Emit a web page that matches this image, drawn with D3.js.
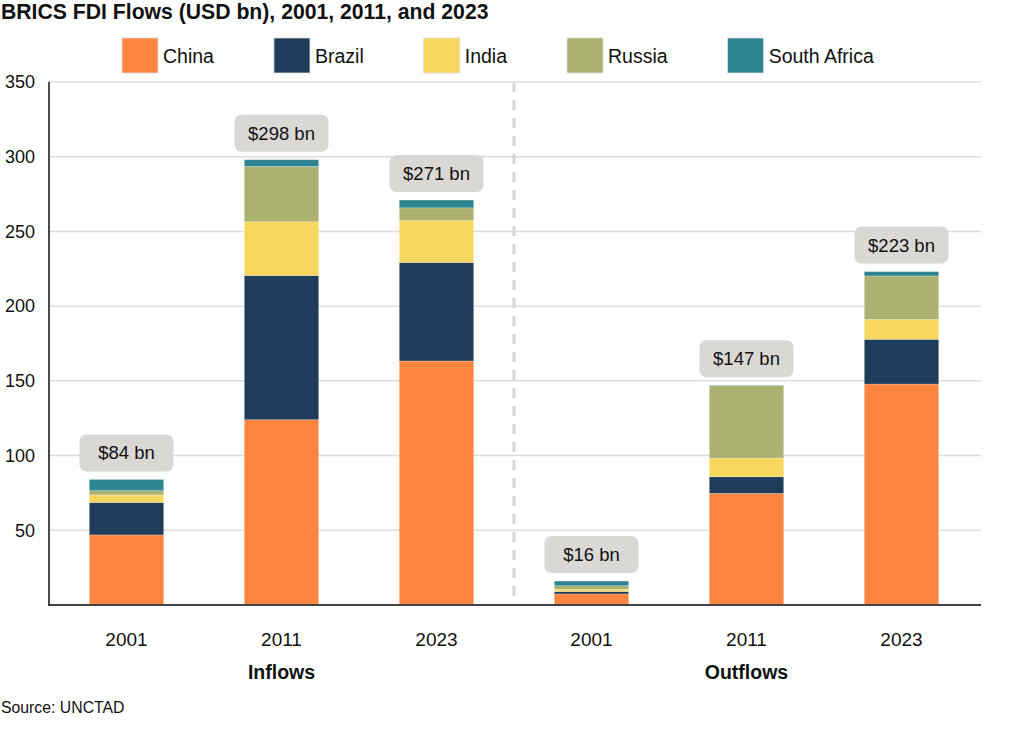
<!DOCTYPE html>
<html>
<head>
<meta charset="utf-8">
<script src="https://cdn.jsdelivr.net/npm/d3@7"></script>
<style>
  body { margin: 0; background: #fff; }
  text { font-family: "Liberation Sans", Arial, sans-serif; fill: #111; }
</style>
</head>
<body>
<div id="chart"></div>
<script>
// Data (USD bn)
var groups = ["Inflows", "Outflows"];
var years = ["2001", "2011", "2023"];
var countries = ["China", "Brazil", "India", "Russia", "South Africa"];
var colors = ["#fb843e", "#1f3c5a", "#f7d65d", "#abb26f", "#2f8491"];

var china       = [46.9, 124.0, 163.3, 7.4, 74.7, 147.9];
var brazil      = [21.7,  96.5,  65.9, 1.6, 11.1,  29.9];
var india       = [ 5.1,  36.0,  28.2, 1.5, 12.5,  13.3];
var russia      = [ 2.8,  37.0,   8.4, 2.4, 48.6,  29.1];
var southAfrica = [ 7.5,   4.5,   5.2, 3.1,  0.2,   2.9];
var totalLabels = ["$84 bn", "$298 bn", "$271 bn", "$16 bn", "$147 bn", "$223 bn"];
var yTicks = [50, 100, 150, 200, 250, 300, 350];

var width = 1024, height = 731;
var margin = { left: 49, right: 45, top: 82, bottom: 126 };

var rows = [];
groups.forEach(function(g, gi) {
    years.forEach(function(y, yi) {
        var i = gi * years.length + yi;
        rows.push({
            key: g + "|" + y, group: g, year: y, label: totalLabels[i],
            "China": china[i], "Brazil": brazil[i], "India": india[i],
            "Russia": russia[i], "South Africa": southAfrica[i]
        });
    });
});

var svg = d3.select("#chart").append("svg")
    .attr("width", width)
    .attr("height", height);

var x = d3.scaleBand()
    .domain(rows.map(function(d) { return d.key; }))
    .range([margin.left, width - margin.right])
    .paddingInner(0.52)
    .paddingOuter(0.26);

var y = d3.scaleLinear()
    .domain([0, 350])
    .range([height - margin.bottom, margin.top]);

var color = d3.scaleOrdinal().domain(countries).range(colors);

// title
svg.append("text")
    .attr("x", 1).attr("y", 19)
    .style("font-size", "21.2px").style("font-weight", "bold")
    .text("BRICS FDI Flows (USD bn), 2001, 2011, and 2023");

// legend
var lx = 122;
countries.forEach(function(c) {
    var g = svg.append("g").attr("transform", "translate(" + lx + ",38)");
    g.append("rect")
        .attr("width", 36).attr("height", 35)
        .attr("fill", color(c))
        .attr("stroke", "#ddd").attr("stroke-width", 0.8);
    var t = g.append("text")
        .attr("x", 41).attr("y", 24.5)
        .style("font-size", "19.5px")
        .text(c);
    lx += 41 + t.node().getComputedTextLength() + 60;
});

// gridlines
svg.append("g")
    .selectAll("line")
    .data(yTicks)
  .enter().append("line")
    .attr("x1", margin.left).attr("x2", width - margin.right + 2)
    .attr("y1", function(d) { return y(d); })
    .attr("y2", function(d) { return y(d); })
    .attr("stroke", "#dcdcdc").attr("stroke-width", 1.5);

// y axis labels
var yAxis = svg.append("g")
    .attr("transform", "translate(" + margin.left + ",0)")
    .call(d3.axisLeft(y).tickValues(yTicks).tickSize(0).tickPadding(14));
yAxis.select(".domain").remove();
yAxis.selectAll("text")
    .style("font-size", "18px")
    .style("font-family", "Liberation Sans, Arial, sans-serif")
    .attr("fill", "#111");

// dashed divider between inflows and outflows
var divX = (x(rows[2].key) + x.bandwidth() + x(rows[3].key)) / 2;
svg.append("line")
    .attr("x1", divX).attr("x2", divX)
    .attr("y1", y(350)).attr("y2", y(0))
    .attr("stroke", "#d6d6d6").attr("stroke-width", 3)
    .attr("stroke-dasharray", "10,8");

// stacked bars
var stack = d3.stack().keys(countries);
var series = stack(rows);

svg.append("g")
    .selectAll("g")
    .data(series)
  .enter().append("g")
    .attr("fill", function(d) { return color(d.key); })
    .selectAll("rect")
    .data(function(d) { return d; })
  .enter().append("rect")
    .attr("x", function(d) { return x(d.data.key); })
    .attr("y", function(d) { return y(d[1]); })
    .attr("width", x.bandwidth())
    .attr("height", function(d) { return y(d[0]) - y(d[1]); })
    .attr("stroke", "#ffffff").attr("stroke-opacity", 0.35).attr("stroke-width", 0.6);

// total labels
var tops = series[series.length - 1];
var lab = svg.append("g")
    .selectAll("g")
    .data(tops)
  .enter().append("g")
    .attr("transform", function(d) {
        return "translate(" + (x(d.data.key) + x.bandwidth() / 2) + "," + (y(d[1]) - 8) + ")";
    });
lab.append("rect")
    .attr("x", -47).attr("y", -37)
    .attr("width", 94).attr("height", 37)
    .attr("rx", 7)
    .attr("fill", "#d9d8d5");
lab.append("text")
    .attr("y", -12)
    .attr("text-anchor", "middle")
    .style("font-size", "18.5px")
    .text(function(d) { return d.data.label; });

// axes lines
svg.append("line")
    .attr("x1", margin.left).attr("x2", width - margin.right + 2)
    .attr("y1", y(0)).attr("y2", y(0))
    .attr("stroke", "#444").attr("stroke-width", 2);
svg.append("line")
    .attr("x1", margin.left).attr("x2", margin.left)
    .attr("y1", y(350)).attr("y2", y(0) + 1)
    .attr("stroke", "#111").attr("stroke-width", 1.5);

// year labels
svg.append("g")
    .selectAll("text")
    .data(rows)
  .enter().append("text")
    .attr("x", function(d) { return x(d.key) + x.bandwidth() / 2; })
    .attr("y", 646)
    .attr("text-anchor", "middle")
    .style("font-size", "19px")
    .text(function(d) { return d.year; });

// group labels, centred under the middle bar of each group
svg.append("g")
    .selectAll("text")
    .data(groups)
  .enter().append("text")
    .attr("x", function(g) { return x(g + "|" + years[1]) + x.bandwidth() / 2; })
    .attr("y", 679)
    .attr("text-anchor", "middle")
    .style("font-size", "19.5px").style("font-weight", "bold")
    .text(function(g) { return g; });

// source
svg.append("text")
    .attr("x", 1).attr("y", 713)
    .style("font-size", "15.8px")
    .text("Source: UNCTAD");
</script>
</body>
</html>
